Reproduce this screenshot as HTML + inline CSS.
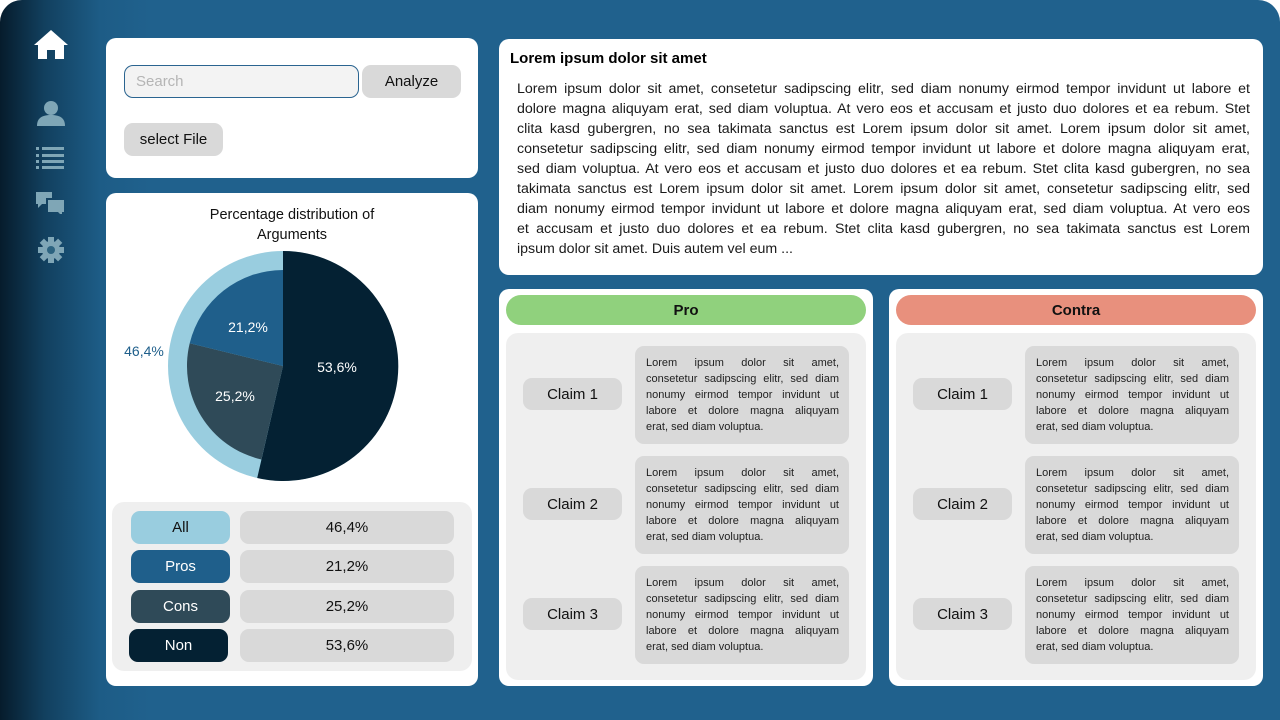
<!DOCTYPE html>
<html><head><meta charset="utf-8"><style>
*{margin:0;padding:0;box-sizing:border-box}
body{width:1280px;height:720px;background:#fff;font-family:"Liberation Sans",sans-serif;position:relative;overflow:hidden}
.frame{position:absolute;left:0;top:0;width:1280px;height:720px;border-radius:22px 22px 0 0;background:linear-gradient(90deg,#061c2c 0px,#12405f 45px,#1d5c86 100px,#20618d 150px,#20618d 100%)}
.card{position:absolute;background:#fff;border-radius:10px}
.abs{position:absolute}
.pill{position:absolute;border-radius:9px;display:flex;align-items:center;justify-content:center;font-size:15px;color:#111}
.ln{display:block;text-align:justify;text-align-last:justify;white-space:nowrap}
.ln.last{text-align-last:left}
.main .ln{font-size:14.2px;line-height:20px;color:#1a1a1a;width:733px;white-space:normal;height:20px;overflow:hidden}
.cb{position:absolute;width:214px;height:98px;background:#d9d9d9;border-radius:9px;padding:9px 10px 0 11px}
.cb .ln{font-size:11px;line-height:16px;height:16px;color:#222;width:193px;white-space:normal;overflow:hidden}
.claim{width:99px;height:32px;background:#d9d9d9}
</style></head><body>
<div class="frame"></div>
<svg class="abs" style="left:33px;top:28px" width="36" height="34" viewBox="0 0 36 34"><path d="M18 2 L1 17 L5 17 L5 31 L14 31 L14 22 L22 22 L22 31 L31 31 L31 17 L35 17 Z" fill="#fff"/></svg>
<svg class="abs" style="left:36px;top:100px" width="30" height="28" viewBox="0 0 30 28"><circle cx="15" cy="8" r="7" fill="#7fa6b6"/><path d="M1 26 C1 18 6 15 15 15 C24 15 29 18 29 26 Z" fill="#7fa6b6"/></svg>
<svg class="abs" style="left:36px;top:146px" width="30" height="24" viewBox="0 0 30 24"><g fill="#7fa6b6"><rect x="0" y="1" width="3" height="3"/><rect x="0" y="8" width="3" height="3"/><rect x="0" y="14" width="3" height="3"/><rect x="0" y="20" width="3" height="3"/><rect x="6" y="1" width="22" height="3"/><rect x="6" y="8" width="22" height="3"/><rect x="6" y="14" width="22" height="3"/><rect x="6" y="20" width="22" height="3"/></g></svg>
<svg class="abs" style="left:36px;top:190px" width="30" height="24" viewBox="0 0 30 24"><g fill="#7fa6b6"><path d="M0 2 H16 V8 H10 V14 H6 L2 18 V14 H0 Z"/><path d="M12 10 H28 V22 H26 V26 L22 22 H12 Z"/></g></svg>
<svg class="abs" style="left:37px;top:236px" width="28" height="28" viewBox="-14 -14 28 28"><g fill="#7fa6b6"><circle r="9"/><g id="t"><rect x="-3" y="-13" width="6" height="6"/></g><use href="#t" transform="rotate(45)"/><use href="#t" transform="rotate(90)"/><use href="#t" transform="rotate(135)"/><use href="#t" transform="rotate(180)"/><use href="#t" transform="rotate(225)"/><use href="#t" transform="rotate(270)"/><use href="#t" transform="rotate(315)"/></g><circle r="4" fill="#2c6380"/></svg>

<div class="card" style="left:106px;top:38px;width:372px;height:140px"></div>
<div class="abs" style="left:124px;top:65px;width:235px;height:33px;background:#f3f3f3;border:1px solid #2a6490;border-radius:9px;font-size:15px;color:#b5b5b5;padding:7px 0 0 11px">Search</div>
<div class="pill" style="left:362px;top:65px;width:99px;height:33px;background:#d9d9d9">Analyze</div>
<div class="pill" style="left:124px;top:123px;width:99px;height:33px;background:#d9d9d9">select File</div>

<div class="card" style="left:106px;top:193px;width:372px;height:493px"></div>
<div class="abs" style="left:106px;top:205px;width:372px;text-align:center;font-size:14.5px;line-height:20px;color:#111">Percentage distribution of<br>Arguments</div>
<svg class="abs" style="left:0;top:0" width="480" height="500">
<circle cx="283" cy="366" r="115" fill="#99cddf"/>
<path d="M283 366 L283 251 A115 115 0 1 1 257.2 478 Z" fill="#042133"/>
<path d="M283 366 L261.4 459.5 A96 96 0 0 1 189.7 343.3 Z" fill="#2f4a58"/>
<path d="M283 366 L189.7 343.3 A96 96 0 0 1 283 270 Z" fill="#1f5f8b"/>
<g font-family="Liberation Sans" font-size="14" fill="#fff" text-anchor="middle">
<text x="337" y="372">53,6%</text><text x="248" y="332">21,2%</text><text x="235" y="401">25,2%</text></g>
<text x="144" y="356" font-family="Liberation Sans" font-size="14" fill="#1f5f8b" text-anchor="middle">46,4%</text>
</svg>
<div class="abs" style="left:112px;top:502px;width:360px;height:169px;background:#efefef;border-radius:12px"></div>
<div class="pill" style="left:131px;top:511px;width:99px;height:33px;background:#99cddf">All</div>
<div class="pill" style="left:131px;top:550px;width:99px;height:33px;background:#1f5f8b;color:#fff">Pros</div>
<div class="pill" style="left:131px;top:590px;width:99px;height:33px;background:#2f4a58;color:#fff">Cons</div>
<div class="pill" style="left:129px;top:629px;width:99px;height:33px;background:#042133;color:#fff">Non</div>
<div class="pill" style="left:240px;top:511px;width:214px;height:33px;background:#d9d9d9">46,4%</div>
<div class="pill" style="left:240px;top:550px;width:214px;height:33px;background:#d9d9d9">21,2%</div>
<div class="pill" style="left:240px;top:590px;width:214px;height:33px;background:#d9d9d9">25,2%</div>
<div class="pill" style="left:240px;top:629px;width:214px;height:33px;background:#d9d9d9">53,6%</div>

<div class="card main" style="left:499px;top:39px;width:764px;height:236px;padding:11px 0 0 11px">
<div style="font-weight:bold;font-size:15px;color:#000;height:29px">Lorem ipsum dolor sit amet</div>
<div style="padding-left:7px">
<span class="ln">Lorem ipsum dolor sit amet, consetetur sadipscing elitr, sed diam nonumy eirmod tempor invidunt ut labore et</span>
<span class="ln">dolore magna aliquyam erat, sed diam voluptua. At vero eos et accusam et justo duo dolores et ea rebum. Stet</span>
<span class="ln">clita kasd gubergren, no sea takimata sanctus est Lorem ipsum dolor sit amet. Lorem ipsum dolor sit amet,</span>
<span class="ln">consetetur sadipscing elitr, sed diam nonumy eirmod tempor invidunt ut labore et dolore magna aliquyam erat,</span>
<span class="ln">sed diam voluptua. At vero eos et accusam et justo duo dolores et ea rebum. Stet clita kasd gubergren, no sea</span>
<span class="ln">takimata sanctus est Lorem ipsum dolor sit amet. Lorem ipsum dolor sit amet, consetetur sadipscing elitr, sed</span>
<span class="ln">diam nonumy eirmod tempor invidunt ut labore et dolore magna aliquyam erat, sed diam voluptua. At vero eos</span>
<span class="ln">et accusam et justo duo dolores et ea rebum. Stet clita kasd gubergren, no sea takimata sanctus est Lorem</span>
<span class="ln last">ipsum dolor sit amet. Duis autem vel eum ...</span>
</div></div>

<div class="card" style="left:499px;top:289px;width:374px;height:397px"></div>
<div class="card" style="left:889px;top:289px;width:374px;height:397px"></div>
<div class="pill" style="left:506px;top:295px;width:360px;height:30px;background:#90d17d;border-radius:15px;font-weight:bold">Pro</div>
<div class="pill" style="left:896px;top:295px;width:360px;height:30px;background:#e8907d;border-radius:15px;font-weight:bold">Contra</div>
<div class="abs" style="left:506px;top:333px;width:360px;height:347px;background:#efefef;border-radius:12px"></div>
<div class="abs" style="left:896px;top:333px;width:360px;height:347px;background:#efefef;border-radius:12px"></div>

<div class="pill claim" style="left:523px;top:378px">Claim 1</div>
<div class="pill claim" style="left:523px;top:488px">Claim 2</div>
<div class="pill claim" style="left:523px;top:598px">Claim 3</div>
<div class="pill claim" style="left:913px;top:378px">Claim 1</div>
<div class="pill claim" style="left:913px;top:488px">Claim 2</div>
<div class="pill claim" style="left:913px;top:598px">Claim 3</div>

<div class="cb" style="left:635px;top:346px"><span class="ln">Lorem ipsum dolor sit amet,</span><span class="ln">consetetur sadipscing elitr, sed diam</span><span class="ln">nonumy eirmod tempor invidunt ut</span><span class="ln">labore et dolore magna aliquyam</span><span class="ln last">erat, sed diam voluptua.</span></div>
<div class="cb" style="left:635px;top:456px"><span class="ln">Lorem ipsum dolor sit amet,</span><span class="ln">consetetur sadipscing elitr, sed diam</span><span class="ln">nonumy eirmod tempor invidunt ut</span><span class="ln">labore et dolore magna aliquyam</span><span class="ln last">erat, sed diam voluptua.</span></div>
<div class="cb" style="left:635px;top:566px"><span class="ln">Lorem ipsum dolor sit amet,</span><span class="ln">consetetur sadipscing elitr, sed diam</span><span class="ln">nonumy eirmod tempor invidunt ut</span><span class="ln">labore et dolore magna aliquyam</span><span class="ln last">erat, sed diam voluptua.</span></div>
<div class="cb" style="left:1025px;top:346px"><span class="ln">Lorem ipsum dolor sit amet,</span><span class="ln">consetetur sadipscing elitr, sed diam</span><span class="ln">nonumy eirmod tempor invidunt ut</span><span class="ln">labore et dolore magna aliquyam</span><span class="ln last">erat, sed diam voluptua.</span></div>
<div class="cb" style="left:1025px;top:456px"><span class="ln">Lorem ipsum dolor sit amet,</span><span class="ln">consetetur sadipscing elitr, sed diam</span><span class="ln">nonumy eirmod tempor invidunt ut</span><span class="ln">labore et dolore magna aliquyam</span><span class="ln last">erat, sed diam voluptua.</span></div>
<div class="cb" style="left:1025px;top:566px"><span class="ln">Lorem ipsum dolor sit amet,</span><span class="ln">consetetur sadipscing elitr, sed diam</span><span class="ln">nonumy eirmod tempor invidunt ut</span><span class="ln">labore et dolore magna aliquyam</span><span class="ln last">erat, sed diam voluptua.</span></div>
</body></html>
